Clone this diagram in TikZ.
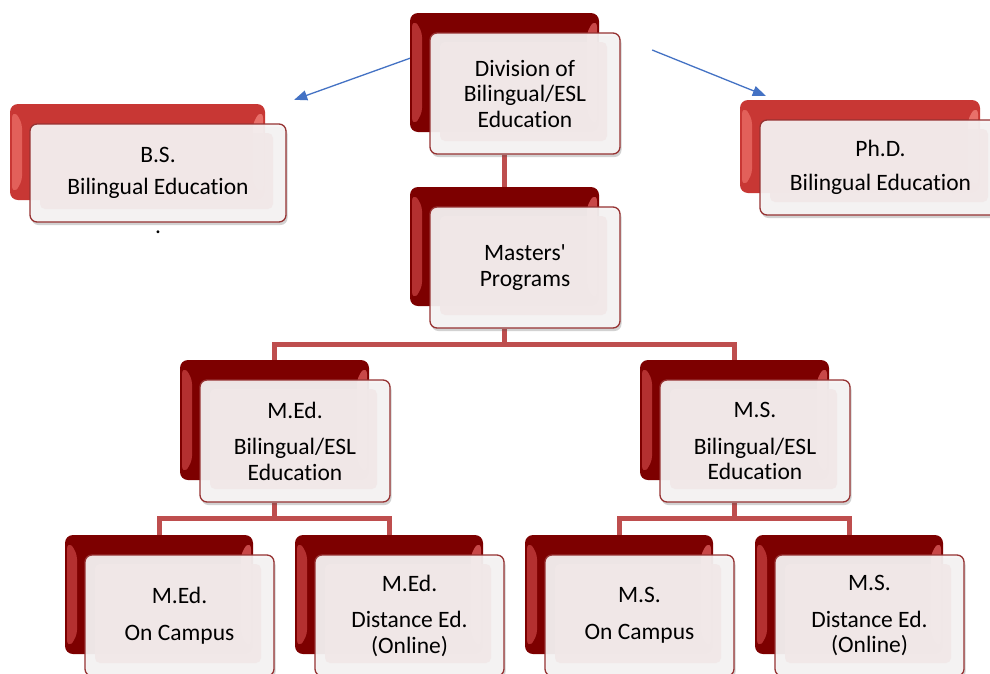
\documentclass[tikz,border=0pt]{standalone}
\usepackage{fontspec}
\setmainfont{Carlito}[Ligatures=NoCommon]
\usetikzlibrary{arrows.meta,shadows,calc}
\pgfdeclarelayer{bgwhite}
\pgfdeclarelayer{background}
\pgfsetlayers{bgwhite,background,main}
\definecolor{darkback}{RGB}{125,0,0}
\definecolor{darkbevel}{RGB}{180,48,48}
\definecolor{darkhigh}{RGB}{200,72,72}
\definecolor{redback}{RGB}{200,55,52}
\definecolor{redbevel}{RGB}{226,96,90}
\definecolor{redhigh}{RGB}{232,112,106}
\definecolor{framered}{RGB}{150,50,50}
\definecolor{outerfill}{RGB}{247,245,245}
\definecolor{panelfill}{RGB}{241,232,232}
\definecolor{connred}{RGB}{190,78,78}
\definecolor{arrowblue}{RGB}{68,114,196}
\tikzset{
  bevelcol/.code={\def\bevc{#1}},
  highcol/.code={\def\highc{#1}},
  backbox/.style={rectangle, rounded corners=8pt, draw=none, inner sep=0pt,
    path picture={
      \fill[\bevc] ([shift={(2pt,-6pt)}]path picture bounding box.north west)
        -- ([shift={(12pt,-16pt)}]path picture bounding box.north west)
        -- ([shift={(12pt,16pt)}]path picture bounding box.south west)
        -- ([shift={(2pt,6pt)}]path picture bounding box.south west) -- cycle;
      \fill[\highc] ([shift={(-2pt,-6pt)}]path picture bounding box.north east)
        -- ([shift={(-12pt,-16pt)}]path picture bounding box.north east)
        -- ([shift={(-12pt,16pt)}]path picture bounding box.south east)
        -- ([shift={(-2pt,6pt)}]path picture bounding box.south east) -- cycle;
    }},
  frontbox/.style={rectangle, rounded corners=7pt, draw=framered, line width=1.3pt,
    fill=outerfill, fill opacity=0.93, text opacity=1, inner sep=2pt, align=center,
    font=\fontsize{23.5}{25.5}\selectfont,
    drop shadow={shadow xshift=1.5pt, shadow yshift=-3pt, opacity=0.25, fill=black!70},
    path picture={
      \fill[panelfill, rounded corners=5pt]
        ([shift={(10pt,-9pt)}]path picture bounding box.north west)
        rectangle ([shift={(-13pt,13pt)}]path picture bounding box.south east);
    }},
  connector/.style={draw=connred, line width=5pt},
  bluearrow/.style={draw=arrowblue, line width=1.3pt, -{Triangle[length=13pt,width=10pt]}},
  dottext/.style={font=\fontsize{23.5}{25.5}\selectfont, inner sep=0pt}
}
\newcommand\orgunit[9]{%
  \node[backbox, fill=#2, bevelcol=#3, highcol=#4, minimum width=#7pt-#5pt, minimum height=#8pt-#6pt]
    (#1B) at ({(#5+#7)/2},{(#6+#8)/2}) {};
  \node[frontbox, minimum width=#7pt-#5pt+1pt, minimum height=#8pt-#6pt+2pt]
    (#1) at ({(#5+#7)/2+20.5},{(#6+#8)/2+21}) {#9};
}
\begin{document}
\begin{tikzpicture}[x=1pt,y=-1pt]
\useasboundingbox (0,0) rectangle (990,673);
\begin{pgfonlayer}{bgwhite}
\fill[white] (0,0) rectangle (990,673);
\end{pgfonlayer}
\clip (0,0) rectangle (990,673);

% boxes
\orgunit{bs}{redback}{redbevel}{redhigh}{10}{104}{265}{200}{B.S.\\[7pt]Bilingual Education}
\orgunit{phd}{redback}{redbevel}{redhigh}{740}{100}{980}{193}{Ph.D.\\[9pt]Bilingual Education}
\orgunit{div}{darkback}{darkbevel}{darkhigh}{410}{13}{599}{132}{Division of\\Bilingual/ESL\\Education}
\orgunit{mast}{darkback}{darkbevel}{darkhigh}{410}{187}{599}{306}{Masters\textquotesingle\\Programs}
\orgunit{med}{darkback}{darkbevel}{darkhigh}{180}{360}{369}{480}{M.Ed.\\[11pt]Bilingual/ESL\\Education}
\orgunit{ms}{darkback}{darkbevel}{darkhigh}{640}{360}{829}{480}{M.S.\\[11pt]Bilingual/ESL\\Education}
\orgunit{medc}{darkback}{darkbevel}{darkhigh}{65}{535}{253}{654}{M.Ed.\\[11pt]On Campus}
\orgunit{medd}{darkback}{darkbevel}{darkhigh}{295}{535}{483}{654}{M.Ed.\\[11pt]Distance Ed.\\(Online)}
\orgunit{msc}{darkback}{darkbevel}{darkhigh}{525}{535}{713}{654}{M.S.\\[11pt]On Campus}
\orgunit{msd}{darkback}{darkbevel}{darkhigh}{755}{535}{943}{654}{M.S.\\[11pt]Distance Ed.\\(Online)}

\node[dottext] (bsdot) at (158,232) {.};

% connector helper coordinates
\coordinate (barA) at (0,344);
\coordinate (barB) at (0,518);
\coordinate (laStart) at ([shift={(5pt,16pt)}]divB.west);
\coordinate (laTip) at ([shift={(29pt,4pt)}]bsB.north east);
\coordinate (raStart) at ([shift={(31.5pt,43.5pt)}]div.east);
\coordinate (raTip) at ([shift={(26pt,4pt)}]phdB.north west);

\begin{pgfonlayer}{background}
\draw[bluearrow] (laStart) -- (laTip);
\draw[bluearrow] (raStart) -- (raTip);
\draw[connector] (divB.center |- div.south) -- (mastB.north);
\draw[connector] (mastB.center |- mast.south) -- (mastB.center |- barA);
\draw[connector] (medB.north) -- (medB.north |- barA) -- (msB.north |- barA) -- (msB.north);
\draw[connector] (medB.center |- med.south) -- (medB.center |- barB);
\draw[connector] (medcB.north) -- (medcB.north |- barB) -- (meddB.north |- barB) -- (meddB.north);
\draw[connector] (msB.center |- ms.south) -- (msB.center |- barB);
\draw[connector] (mscB.north) -- (mscB.north |- barB) -- (msdB.north |- barB) -- (msdB.north);
\end{pgfonlayer}
\end{tikzpicture}
\end{document}
